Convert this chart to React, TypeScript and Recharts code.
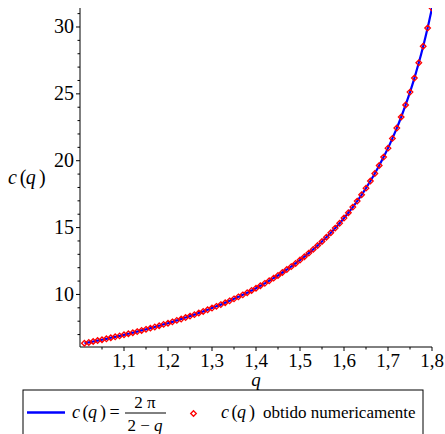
import { ComposedChart, Line, Scatter, XAxis, YAxis } from 'recharts';

const qValues = [
  1.01, 1.02, 1.03, 1.04, 1.05, 1.06, 1.07, 1.08, 1.09, 1.1,
  1.11, 1.12, 1.13, 1.14, 1.15, 1.16, 1.17, 1.18, 1.19, 1.2,
  1.21, 1.22, 1.23, 1.24, 1.25, 1.26, 1.27, 1.28, 1.29, 1.3,
  1.31, 1.32, 1.33, 1.34, 1.35, 1.36, 1.37, 1.38, 1.39, 1.4,
  1.41, 1.42, 1.43, 1.44, 1.45, 1.46, 1.47, 1.48, 1.49, 1.5,
  1.51, 1.52, 1.53, 1.54, 1.55, 1.56, 1.57, 1.58, 1.59, 1.6,
  1.61, 1.62, 1.63, 1.64, 1.65, 1.66, 1.67, 1.68, 1.69, 1.7,
  1.71, 1.72, 1.73, 1.74, 1.75, 1.76, 1.77, 1.78, 1.79, 1.8,
];

const cValues = [
  6.35, 6.41, 6.48, 6.55, 6.61, 6.68, 6.76, 6.83, 6.9, 6.98,
  7.06, 7.14, 7.22, 7.31, 7.39, 7.48, 7.57, 7.66, 7.76, 7.85,
  7.95, 8.06, 8.16, 8.27, 8.38, 8.49, 8.61, 8.73, 8.85, 8.98,
  9.11, 9.24, 9.38, 9.52, 9.67, 9.82, 9.97, 10.13, 10.3, 10.47,
  10.65, 10.83, 11.02, 11.22, 11.42, 11.64, 11.86, 12.08, 12.32, 12.57,
  12.82, 13.09, 13.37, 13.66, 13.96, 14.28, 14.61, 14.96, 15.32, 15.71,
  16.11, 16.53, 16.98, 17.45, 17.95, 18.48, 19.04, 19.64, 20.27, 20.94,
  21.67, 22.44, 23.27, 24.17, 25.13, 26.18, 27.32, 28.56, 29.92, 31.42,
];

const xTicks = [1.05, 1.1, 1.15, 1.2, 1.25, 1.3, 1.35, 1.4, 1.45, 1.5, 1.55, 1.6, 1.65, 1.7, 1.75, 1.8];
const xLabels = [1.1, 1.2, 1.3, 1.4, 1.5, 1.6, 1.7, 1.8];
const yTicks = [7, 8, 9, 10, 11, 12, 13, 14, 15, 16, 17, 18, 19, 20, 21, 22, 23, 24, 25, 26, 27, 28, 29, 30, 31];
const yLabels = [10, 15, 20, 25, 30];

const data = qValues.map((q, i) => ({ q, c: cValues[i] }));

const FONT = '"Liberation Serif", serif';

function XTick({ x, y, payload }: any) {
  const v = payload.value;
  const major = xLabels.some((m) => Math.abs(m - v) < 1e-6);
  return (
    <g>
      <line x1={x} x2={x} y1={y} y2={y + (major ? 4 : 2.5)} stroke="#000" />
      {major && (
        <text x={x} y={y + 20} textAnchor="middle" fontFamily={FONT} fontSize={19} fill="#000">
          {v.toFixed(1).replace('.', ',')}
        </text>
      )}
    </g>
  );
}

function YTick({ x, y, payload }: any) {
  const v = payload.value;
  const major = yLabels.includes(v);
  return (
    <g>
      <line x1={x - (major ? 4 : 2.5)} x2={x} y1={y} y2={y} stroke="#000" />
      {major && (
        <text x={x - 6} y={y + 6.5} textAnchor="end" fontFamily={FONT} fontSize={20} fill="#000">
          {v}
        </text>
      )}
    </g>
  );
}

function Diamond({ cx, cy }: any) {
  const r = 2.8;
  return (
    <polygon
      points={`${cx},${cy - r} ${cx + r},${cy} ${cx},${cy + r} ${cx - r},${cy}`}
      fill="none"
      stroke="#ff0000"
      strokeWidth={1.3}
    />
  );
}

// Maple-style spaced c(q): each glyph placed on its own
function CofQ({ x, y, size }: { x: number; y: number; size: number }) {
  const k = size / 18;
  return (
    <text y={y} fontFamily={FONT} fontSize={size} fill="#000">
      <tspan x={x} fontStyle="italic">c</tspan>
      <tspan x={x + 10.5 * k}>(</tspan>
      <tspan x={x + 16 * k} fontStyle="italic">q</tspan>
      <tspan x={x + 28 * k}>)</tspan>
    </text>
  );
}

function Legend() {
  return (
    <svg
      width={445}
      height={434}
      style={{ position: 'absolute', left: 0, top: 0, pointerEvents: 'none' }}
    >
      <rect x={23} y={390} width={400} height={60} fill="none" stroke="#000" strokeWidth={1} />
      <line x1={27} x2={65} y1={412.5} y2={412.5} stroke="#0000ff" strokeWidth={2.5} />
      <CofQ x={72} y={418} size={18} />
      <text x={109.5} y={418} fontFamily={FONT} fontSize={18} fill="#000">=</text>
      <text x={145} y={408} textAnchor="middle" fontFamily={FONT} fontSize={17} fill="#000">
        2 π
      </text>
      <line x1={125} x2={166} y1={413} y2={413} stroke="#000" strokeWidth={1} />
      <text x={145} y={431} textAnchor="middle" fontFamily={FONT} fontSize={17} fill="#000">
        2 − <tspan fontStyle="italic">q</tspan>
      </text>
      <Diamond cx={193.5} cy={413.5} />
      <CofQ x={221} y={418} size={18} />
      <text x={263} y={418} fontFamily={FONT} fontSize={17} fill="#000">
        obtido numericamente
      </text>
    </svg>
  );
}

export default function App() {
  return (
    <div style={{ position: 'relative', width: 445, height: 434, background: '#fff' }}>
      <style>{`body { margin: 0; }`}</style>
      <ComposedChart
        width={445}
        height={434}
        data={data}
        margin={{ top: 8, right: 13, bottom: 43, left: 0 }}
      >
        <XAxis
          dataKey="q"
          type="number"
          domain={[1, 1.8]}
          ticks={xTicks}
          interval={0}
          tick={<XTick />}
          tickLine={false}
          tickSize={0}
          tickMargin={0}
          axisLine={{ stroke: '#000' }}
          height={44}
          allowDataOverflow
          label={{
            content: ({ viewBox }: any) => (
              <text
                x={viewBox.x + viewBox.width / 2}
                y={viewBox.y + 39}
                textAnchor="middle"
                fontFamily={FONT}
                fontStyle="italic"
                fontSize={19}
                fill="#000"
              >
                q
              </text>
            ),
          }}
        />
        <YAxis
          dataKey="c"
          type="number"
          domain={[6.07, 31.42]}
          ticks={yTicks}
          interval={0}
          tick={<YTick />}
          tickLine={false}
          tickSize={0}
          tickMargin={0}
          axisLine={{ stroke: '#000' }}
          width={80}
          allowDataOverflow
          label={{
            content: ({ viewBox }: any) => (
              <CofQ x={8} y={viewBox.y + viewBox.height / 2 + 6} size={20} />
            ),
          }}
        />
        <Line
          dataKey="c"
          type="monotone"
          stroke="#0000ff"
          strokeWidth={2.2}
          dot={false}
          activeDot={false}
          isAnimationActive={false}
        />
        <Scatter dataKey="c" shape={<Diamond />} isAnimationActive={false} />
      </ComposedChart>
      <Legend />
    </div>
  );
}
